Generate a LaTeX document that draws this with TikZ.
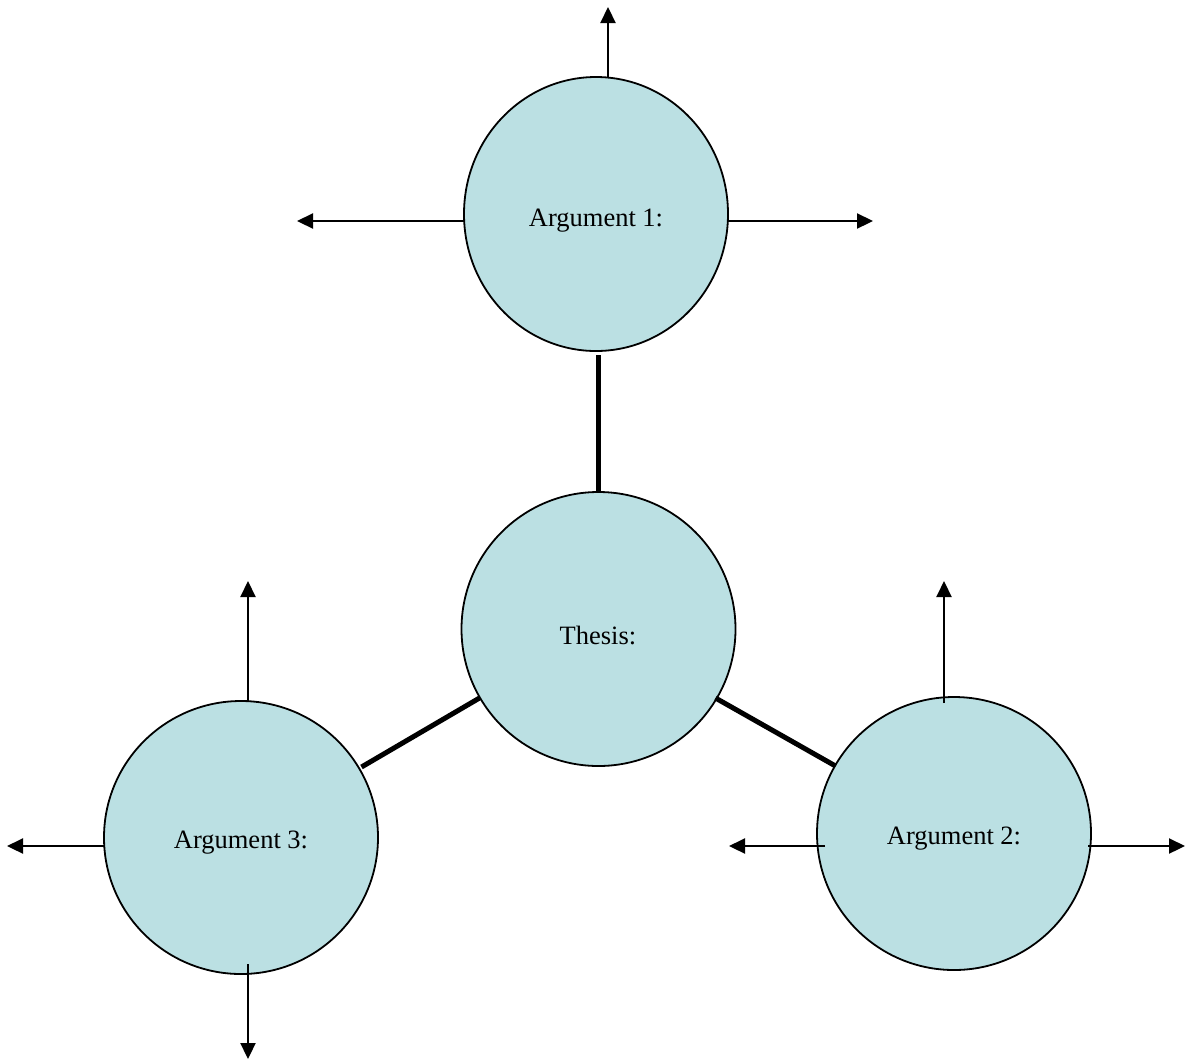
\documentclass[tikz,border=0pt]{standalone}
\usepackage{fontspec}
\setmainfont{Liberation Serif}
\usetikzlibrary{arrows.meta,shapes.geometric}
\definecolor{bubble}{RGB}{187,224,227}
\begin{document}
\begin{tikzpicture}[x=1pt,y=-1pt,
  bub/.style={ellipse,draw=black,line width=1.8pt,fill=bubble,inner sep=0pt},
  lbl/.style={font=\fontsize{26.5}{30}\selectfont},
  arr/.style={line width=2.2pt,-{Triangle[length=16pt,width=15pt]}},
  thick link/.style={line width=5pt}]
\useasboundingbox (0,0) rectangle (1188,1061);
\node[bub,minimum width=264pt,minimum height=274pt] (a1) at (596,214) {};
\node[bub,minimum width=274pt,minimum height=274pt] (th) at (598.5,629) {};
\node[bub,minimum width=274pt,minimum height=273pt] (a2) at (954,833.5) {};
\node[bub,minimum width=274pt,minimum height=273pt] (a3) at (241,837.5) {};
\node[lbl] (t1) at (596,221) {Argument 1:};
\node[lbl] (tt) at (598,635) {Thesis:};
\node[lbl] (t2) at (954,839) {Argument 2:};
\node[lbl] (t3) at (241,843) {Argument 3:};
% thick links
\coordinate (l1s) at (598.5,355);
\draw[thick link] (l1s) -- (th.north);
\draw[thick link] (th) ++(-119,69) coordinate (l3s) -- ++(-118,69) coordinate (l3e);
\draw[thick link] (th) ++(117,69) coordinate (l2s) -- ++(120,68) coordinate (l2e);
% arrows of argument 1
\coordinate (a1ts) at (608,77);  \coordinate (a1te) at (608,7);
\coordinate (a1ls) at (464,221); \coordinate (a1le) at (297,221);
\coordinate (a1rs) at (728,221); \coordinate (a1re) at (873,221);
\draw[arr] (a1ts) -- (a1te);
\draw[arr] (a1ls) -- (a1le);
\draw[arr] (a1rs) -- (a1re);
% arrows of argument 3
\coordinate (a3ts) at (248,701);  \coordinate (a3te) at (248,581);
\coordinate (a3ls) at (104,846);  \coordinate (a3le) at (7,846);
\coordinate (a3bs) at (248,964);  \coordinate (a3be) at (248,1059);
\draw[arr] (a3ts) -- (a3te);
\draw[arr] (a3ls) -- (a3le);
\draw[arr] (a3bs) -- (a3be);
% arrows of argument 2
\coordinate (a2ts) at (944,703);  \coordinate (a2te) at (944,581);
\coordinate (a2ls) at (825,846);  \coordinate (a2le) at (729,846);
\coordinate (a2rs) at (1088,846); \coordinate (a2re) at (1185,846);
\draw[arr] (a2ts) -- (a2te);
\draw[arr] (a2ls) -- (a2le);
\draw[arr] (a2rs) -- (a2re);
\end{tikzpicture}
\end{document}
